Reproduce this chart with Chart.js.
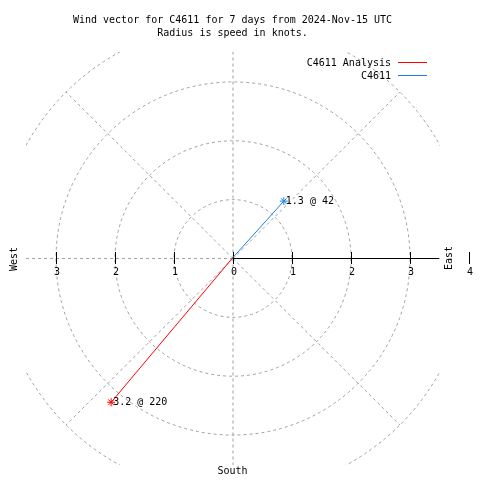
<!DOCTYPE html>
<html><head><meta charset="utf-8">
<script src="https://cdn.jsdelivr.net/npm/chart.js@4/dist/chart.umd.min.js"></script>
<style>html,body{margin:0;padding:0;background:#fff}canvas{display:block}</style>
</head><body>
<canvas id="c" width="480" height="480"></canvas>
<script>
const titleLines = ['Wind vector for C4611 for 7 days from 2024-Nov-15 UTC', 'Radius is speed in knots.'];
const seriesNames = ['C4611 Analysis', 'C4611'];
const speeds = [3.2, 1.3];
const directions = [220, 42];
const ringValues = [1, 2, 3, 4];
const spokeAngles = [0, 45, 90, 135, 180, 225, 270, 315];
const rightTicks = [0, 1, 2, 3, 4];
const leftTicks = [1, 2, 3];
const compassLabels = ['West', 'East', 'South'];
const axisRange = 3.5;

const seriesColors = ['#ff0000', '#1e80e4'];
const FONT = '10px "DejaVu Sans Mono", "Liberation Mono", monospace';

function toXY(speed, dir) {
  const a = dir * Math.PI / 180;
  return { x: speed * Math.sin(a), y: speed * Math.cos(a) };
}

const datasets = seriesNames.map((name, i) => ({
  label: name,
  data: [{ x: 0, y: 0 }, toXY(speeds[i], directions[i])],
  showLine: true,
  borderColor: seriesColors[i],
  backgroundColor: seriesColors[i],
  borderWidth: 1,
  pointRadius: [0, 4],
  pointStyle: 'star',
  pointBorderColor: seriesColors[i],
  pointBorderWidth: 1,
  clip: false
}));

const polarPlugin = {
  id: 'polar',
  beforeDatasetsDraw(chart) {
    const { ctx, chartArea: a, scales: { x, y } } = chart;
    const cx = x.getPixelForValue(0), cy = y.getPixelForValue(0);
    const ux = x.getPixelForValue(1) - cx, uy = cy - y.getPixelForValue(1);
    ctx.save();
    ctx.beginPath();
    ctx.rect(a.left, a.top, a.right - a.left + 1, a.bottom - a.top + 1);
    ctx.clip();
    ctx.strokeStyle = '#a0a0a0';
    ctx.lineWidth = 1;
    ctx.setLineDash([3, 3]);
    ringValues.forEach(r => {
      ctx.beginPath();
      ctx.ellipse(cx + 0.5, cy + 0.5, r * ux, r * uy, 0, 0, 2 * Math.PI);
      ctx.stroke();
    });
    const rMax = ringValues[ringValues.length - 1];
    spokeAngles.forEach(ang => {
      const p = toXY(rMax, ang);
      ctx.beginPath();
      ctx.moveTo(cx + 0.5, cy + 0.5);
      ctx.lineTo(x.getPixelForValue(p.x) + 0.5, y.getPixelForValue(p.y) + 0.5);
      ctx.stroke();
    });
    ctx.restore();

    // radial axis
    ctx.save();
    ctx.strokeStyle = '#000';
    ctx.lineWidth = 1;
    ctx.beginPath();
    ctx.moveTo(cx, cy + 0.5);
    ctx.lineTo(x.getPixelForValue(axisRange), cy + 0.5);
    ctx.stroke();
    const tick = px => {
      ctx.beginPath();
      ctx.moveTo(Math.round(px) + 0.5, cy - 6);
      ctx.lineTo(Math.round(px) + 0.5, cy + 6);
      ctx.stroke();
    };
    rightTicks.forEach(v => tick(x.getPixelForValue(v)));
    leftTicks.forEach(v => tick(x.getPixelForValue(-v)));
    ctx.fillStyle = '#000';
    ctx.font = FONT;
    ctx.textAlign = 'center';
    ctx.textBaseline = 'middle';
    rightTicks.forEach(v => ctx.fillText(String(v), Math.round(x.getPixelForValue(v)) + 1, cy + 14));
    leftTicks.forEach(v => ctx.fillText(String(v), Math.round(x.getPixelForValue(-v)) + 1, cy + 14));
    ctx.restore();
  },
  afterDatasetsDraw(chart) {
    const { ctx, chartArea: a, scales: { x, y } } = chart;
    const cx = x.getPixelForValue(0), cy = y.getPixelForValue(0);
    ctx.save();
    ctx.fillStyle = '#000';
    ctx.font = FONT;
    ctx.textBaseline = 'middle';
    // point labels
    ctx.textAlign = 'left';
    seriesNames.forEach((n, i) => {
      const p = toXY(speeds[i], directions[i]);
      ctx.fillText(speeds[i] + ' @ ' + directions[i], x.getPixelForValue(p.x) + 2, y.getPixelForValue(p.y));
    });
    // title
    ctx.textAlign = 'center';
    const mid = (a.left + a.right) / 2;
    ctx.fillText(titleLines[0], mid, 20);
    ctx.fillText(titleLines[1], mid, 33);
    // compass
    ctx.fillText(compassLabels[2], cx, a.bottom + 7);
    ctx.save();
    ctx.translate(14, cy + 1);
    ctx.rotate(-Math.PI / 2);
    ctx.fillText(compassLabels[0], 0, 0);
    ctx.restore();
    ctx.save();
    ctx.translate(449, cy);
    ctx.rotate(-Math.PI / 2);
    ctx.fillText(compassLabels[1], 0, 0);
    ctx.restore();
    // legend
    ctx.textAlign = 'right';
    seriesNames.forEach((n, i) => {
      const ly = 63 + i * 13;
      ctx.fillStyle = '#000';
      ctx.fillText(n, 391, ly);
      ctx.strokeStyle = seriesColors[i];
      ctx.lineWidth = 1;
      ctx.beginPath();
      ctx.moveTo(398, ly - 0.5);
      ctx.lineTo(427, ly - 0.5);
      ctx.stroke();
    });
    ctx.restore();
  }
};

new Chart(document.getElementById('c'), {
  type: 'scatter',
  data: { datasets },
  options: {
    responsive: false,
    animation: false,
    devicePixelRatio: 1,
    layout: { padding: { left: 26, right: 41, top: 52, bottom: 16 } },
    scales: {
      x: { type: 'linear', min: -axisRange, max: axisRange, display: false },
      y: { type: 'linear', min: -axisRange, max: axisRange, display: false }
    },
    plugins: { legend: { display: false }, title: { display: false }, tooltip: { enabled: false } },
    events: []
  },
  plugins: [polarPlugin]
});
</script>
</body></html>
